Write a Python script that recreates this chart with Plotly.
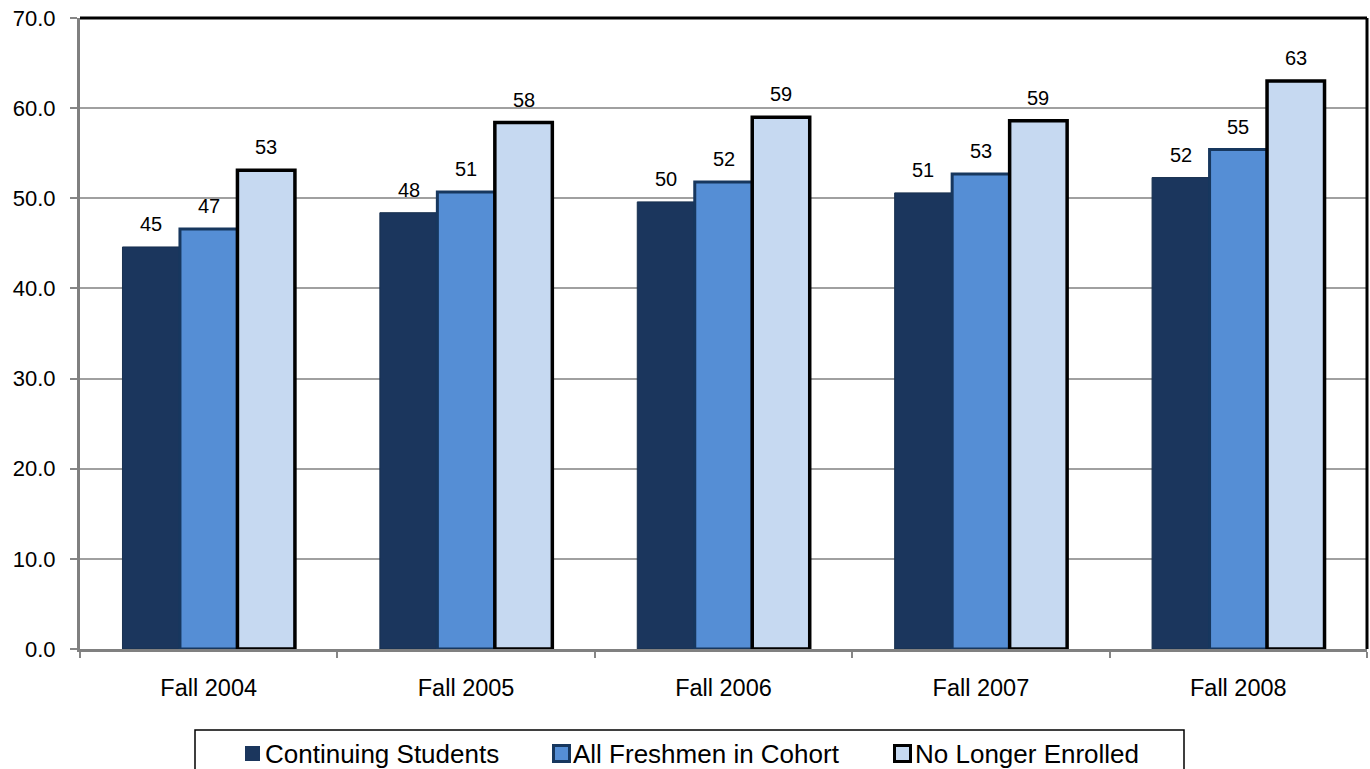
import plotly.graph_objects as go

# Cohort years on the category axis
terms = ["Fall 2004", "Fall 2005", "Fall 2006", "Fall 2007", "Fall 2008"]

# Average values per group and year
continuing = [44.6, 48.4, 49.6, 50.6, 52.3]
all_freshmen = [46.6, 50.7, 51.8, 52.7, 55.4]
no_longer = [53.1, 58.4, 59.0, 58.6, 63.0]

series_names = ["Continuing Students", "All Freshmen in Cohort", "No Longer Enrolled"]
series_values = [continuing, all_freshmen, no_longer]

y_ticks = [0, 10, 20, 30, 40, 50, 60, 70]

FONT = "Arial, Liberation Sans, sans-serif"
W, H = 1370, 769
M_L, M_R, M_T, M_B = 80, 3, 18, 120
BARGAP = 0.33

fills = ["#1b365d", "#558ed5", "#c6d9f1"]
edges = ["#18304f", "#17375e", "#000000"]
edge_w = [1, 3, 3.5]


def px_x(x):
    return (x - M_L) / (W - M_L - M_R)


def px_y(y):
    return (H - M_B - y) / (H - M_T - M_B)


fig = go.Figure()
for name, vals, fc, ec, ew in zip(series_names, series_values, fills, edges, edge_w):
    fig.add_trace(go.Bar(
        x=terms, y=vals, name=name,
        marker=dict(color=fc, line=dict(color=ec, width=ew)),
        showlegend=False,
    ))

# Value labels above each bar, rounded to whole numbers
n = len(series_names)
bar_w = (1 - BARGAP) / n
for k, vals in enumerate(series_values):
    off = (k - (n - 1) / 2) * bar_w
    for i, v in enumerate(vals):
        fig.add_annotation(
            x=i + off, y=v, xref="x", yref="y",
            text=f"{v:.0f}", showarrow=False,
            xanchor="center", yanchor="bottom", yshift=10,
            font=dict(family=FONT, size=20, color="#000000"),
        )

fig.update_layout(
    width=W, height=H,
    margin=dict(l=M_L, r=M_R, t=M_T, b=M_B),
    paper_bgcolor="white", plot_bgcolor="white",
    barmode="group", bargap=BARGAP, bargroupgap=0,
    font=dict(family=FONT, color="#000000"),
    showlegend=False,
)

fig.update_yaxes(
    range=[0, 70], tickvals=y_ticks, tickformat=".1f",
    showgrid=True, gridcolor="#a0a0a0", gridwidth=1.5,
    showline=True, linecolor="#808080", linewidth=3,
    ticks="outside", ticklen=7, tickcolor="#868686", tickwidth=2,
    tickfont=dict(family=FONT, size=22, color="#000000"),
    ticklabelstandoff=10, zeroline=False,
)
fig.update_xaxes(
    showline=True, linecolor="#808080", linewidth=3,
    ticks="outside", ticklen=6, tickcolor="#868686", tickwidth=2,
    tickson="boundaries",
    tickfont=dict(family=FONT, size=23.5, color="#000000"),
    ticklabelstandoff=16,
)

# Black frame on the top and right of the plot area
fig.add_shape(type="line", xref="paper", yref="paper", x0=0, x1=1, y0=1, y1=1,
              line=dict(color="#000000", width=3))
fig.add_shape(type="line", xref="paper", yref="paper", x0=1, x1=1, y0=0, y1=1,
              line=dict(color="#000000", width=3))

# Legend box along the bottom edge
LEG_LEFT, LEG_RIGHT, LEG_TOP, LEG_BOTTOM = 195, 1184, 730, 800
fig.add_shape(type="rect", xref="paper", yref="paper",
              x0=px_x(LEG_LEFT), x1=px_x(LEG_RIGHT),
              y0=px_y(LEG_BOTTOM), y1=px_y(LEG_TOP),
              line=dict(color="#000000", width=1.5), fillcolor="rgba(0,0,0,0)")

swatch_left = [245, 553.5, 894.5]
swatch_size = [15, 16, 16]
text_left = [263, 571, 913]
LEG_MID = 753.5
for k in range(n):
    s = swatch_size[k]
    fig.add_shape(type="rect", xref="paper", yref="paper",
                  x0=px_x(swatch_left[k]), x1=px_x(swatch_left[k] + s),
                  y0=px_y(LEG_MID + s / 2), y1=px_y(LEG_MID - s / 2),
                  fillcolor=fills[k],
                  line=dict(color=edges[k], width=0 if k == 0 else 3))
    fig.add_annotation(
        x=px_x(text_left[k]), y=px_y(LEG_MID), xref="paper", yref="paper",
        text=series_names[k], showarrow=False,
        xanchor="left", yanchor="middle",
        font=dict(family=FONT, size=26, color="#000000"),
    )

fig.write_html("out.html")
